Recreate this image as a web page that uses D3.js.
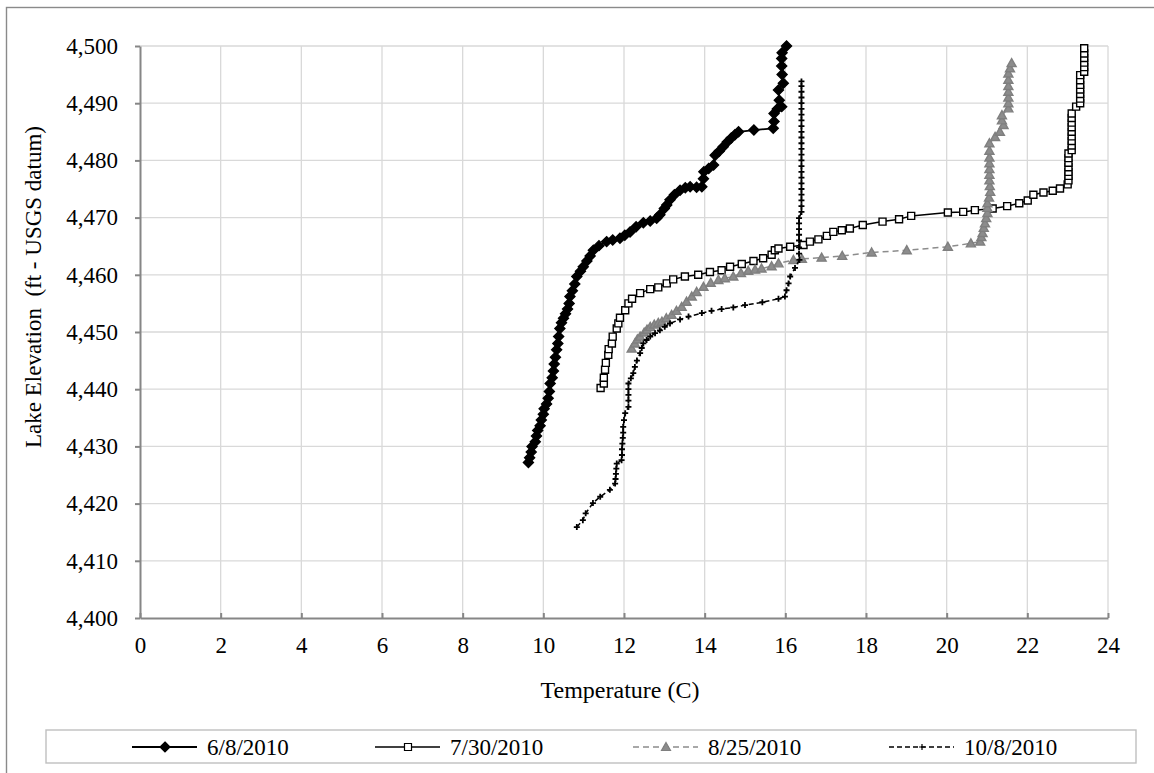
<!DOCTYPE html>
<html>
<head>
<meta charset="utf-8">
<script src="https://cdn.jsdelivr.net/npm/d3@7"></script>
<style>
  body { margin: 0; background: #fff; }
  text { font-family: "Liberation Serif", "Times New Roman", serif; fill: #000; }
</style>
</head>
<body>
<div id="chart"></div>
<script>
// temperature (C), lake elevation (ft) pairs
var june8 = [
  [9.63,4427.2],[9.66,4428.0],[9.70,4429.0],[9.72,4430.0],[9.80,4430.8],[9.83,4431.8],
  [9.86,4432.8],[9.92,4433.6],[9.95,4434.6],[10.00,4435.6],[10.02,4436.6],[10.08,4437.4],
  [10.12,4438.4],[10.15,4439.6],[10.17,4441.0],[10.22,4442.0],[10.25,4443.2],[10.27,4444.4],
  [10.30,4445.6],[10.33,4446.9],[10.36,4448.0],[10.38,4449.2],[10.41,4450.6],[10.45,4451.6],
  [10.50,4452.4],[10.55,4453.2],[10.60,4454.0],[10.64,4455.0],[10.66,4456.2],[10.72,4457.2],
  [10.78,4458.4],[10.83,4459.7],[10.92,4460.6],[10.99,4461.4],[11.08,4462.4],[11.16,4463.3],
  [11.24,4464.3],[11.38,4465.1],[11.57,4465.8],[11.72,4466.1],[11.90,4466.4],[12.02,4466.9],
  [12.15,4467.5],[12.30,4468.4],[12.48,4469.1],[12.65,4469.4],[12.81,4469.9],[12.89,4470.5],
  [13.00,4471.6],[13.06,4472.2],[13.14,4473.1],[13.25,4474.0],[13.39,4474.8],[13.52,4475.2],
  [13.64,4475.4],[13.80,4475.3],[13.93,4475.4],[13.97,4476.8],[13.98,4478.0],[14.10,4478.6],
  [14.22,4479.2],[14.26,4480.9],[14.36,4481.6],[14.46,4482.4],[14.56,4483.2],[14.66,4483.9],
  [14.75,4484.5],[14.84,4485.0],[15.22,4485.3],[15.70,4485.6],[15.72,4486.8],[15.72,4488.2],
  [15.80,4489.0],[15.91,4489.4],[15.85,4490.5],[15.83,4492.3],[15.95,4493.5],[15.92,4495.0],
  [15.91,4496.5],[15.91,4497.8],[15.92,4498.8],[16.03,4500.0]
];

var july30 = [
  [11.42,4440.2],[11.50,4441.0],[11.50,4442.0],[11.53,4443.4],[11.55,4444.6],[11.61,4446.0],
  [11.62,4447.0],[11.70,4448.0],[11.72,4449.2],[11.82,4450.6],[11.86,4451.5],[11.90,4452.5],
  [12.03,4453.8],[12.11,4455.0],[12.20,4455.8],[12.40,4456.8],[12.65,4457.5],[12.85,4457.8],
  [13.06,4458.5],[13.22,4459.2],[13.51,4459.7],[13.84,4460.0],[14.13,4460.5],[14.42,4460.8],
  [14.63,4461.4],[14.92,4461.9],[15.21,4462.4],[15.45,4462.9],[15.66,4463.5],[15.74,4464.3],
  [15.83,4464.6],[16.12,4464.9],[16.45,4465.2],[16.61,4465.8],[16.82,4466.2],[17.03,4466.8],
  [17.19,4467.5],[17.40,4467.8],[17.60,4468.1],[17.92,4468.7],[18.41,4469.3],[18.82,4469.7],
  [19.12,4470.3],[20.03,4470.9],[20.41,4471.0],[20.70,4471.3],[21.14,4471.6],[21.50,4472.0],
  [21.80,4472.5],[22.01,4473.0],[22.15,4474.0],[22.40,4474.4],[22.63,4474.7],[22.81,4475.1],
  [23.00,4475.8],[23.02,4476.5],[23.02,4477.3],[23.02,4478.0],[23.02,4478.8],[23.02,4479.6],
  [23.02,4480.4],[23.02,4481.2],[23.10,4481.8],[23.10,4482.6],[23.10,4483.4],[23.10,4484.2],
  [23.10,4485.0],[23.10,4485.8],[23.10,4486.6],[23.10,4487.4],[23.10,4488.2],[23.21,4489.4],
  [23.31,4490.0],[23.31,4490.8],[23.31,4491.6],[23.31,4492.4],[23.31,4493.2],[23.31,4494.0],
  [23.31,4494.9],[23.41,4495.5],[23.41,4496.3],[23.41,4497.1],[23.41,4497.9],[23.41,4498.7],
  [23.41,4499.6]
];

var aug25 = [
  [12.19,4447.1],[12.27,4448.0],[12.33,4448.7],[12.40,4449.2],[12.50,4449.9],[12.57,4450.4],
  [12.65,4450.9],[12.75,4451.3],[12.85,4451.6],[12.94,4451.8],[13.05,4452.4],[13.18,4453.0],
  [13.30,4453.7],[13.43,4454.4],[13.55,4455.3],[13.68,4456.2],[13.80,4457.0],[13.97,4457.9],
  [14.15,4458.6],[14.34,4459.1],[14.50,4459.4],[14.71,4459.7],[14.90,4460.3],[15.08,4460.7],
  [15.25,4460.9],[15.41,4461.1],[15.66,4461.5],[15.83,4462.0],[16.20,4462.6],[16.41,4462.8],
  [16.90,4463.0],[17.41,4463.3],[18.14,4463.9],[19.01,4464.3],[20.03,4464.9],[20.60,4465.5],
  [20.83,4465.8],[20.86,4466.6],[20.89,4467.3],[20.92,4468.2],[20.95,4469.0],[20.98,4469.9],
  [21.01,4470.8],[21.01,4471.7],[21.01,4472.5],[21.05,4473.5],[21.08,4474.5],[21.07,4475.5],
  [21.06,4476.5],[21.06,4477.5],[21.06,4478.5],[21.06,4479.5],[21.06,4480.5],[21.06,4481.7],
  [21.06,4483.0],[21.20,4484.1],[21.32,4485.0],[21.41,4486.2],[21.37,4487.0],[21.37,4487.9],
  [21.53,4489.1],[21.53,4490.0],[21.53,4491.0],[21.53,4492.0],[21.53,4493.0],[21.53,4494.1],
  [21.53,4495.2],[21.57,4496.1],[21.61,4497.0]
];

var oct8 = [
  [10.83,4415.9],[10.98,4417.1],[11.05,4418.3],[11.23,4420.1],[11.41,4421.2],[11.65,4422.4],
  [11.78,4423.5],[11.79,4424.3],[11.80,4425.2],[11.81,4426.1],[11.82,4427.0],[11.94,4427.6],
  [11.95,4428.5],[11.95,4429.5],[11.96,4430.5],[11.97,4431.5],[11.98,4432.4],[11.98,4433.4],
  [12.00,4434.6],[12.03,4435.8],[12.11,4436.9],[12.11,4438.0],[12.11,4439.0],[12.11,4440.0],
  [12.11,4441.0],[12.17,4441.9],[12.23,4442.8],[12.27,4443.9],[12.32,4445.0],[12.40,4446.3],
  [12.44,4447.2],[12.48,4448.0],[12.56,4448.6],[12.65,4449.2],[12.77,4449.8],[12.89,4450.3],
  [13.01,4450.9],[13.14,4451.5],[13.39,4452.2],[13.60,4452.7],[13.93,4453.3],[14.17,4453.7],
  [14.42,4454.0],[14.71,4454.3],[15.00,4454.7],[15.43,4455.2],[15.83,4455.8],[15.99,4456.2],
  [16.03,4457.3],[16.08,4458.5],[16.12,4459.7],[16.24,4461.2],[16.35,4462.6],[16.34,4463.7],
  [16.34,4464.8],[16.34,4466.0],[16.34,4467.0],[16.34,4468.0],[16.34,4469.0],[16.34,4469.9],
  [16.40,4471.0],[16.40,4472.0],[16.40,4473.0],[16.40,4474.0],[16.40,4475.0],[16.40,4476.0],
  [16.40,4477.0],[16.40,4478.0],[16.40,4479.0],[16.40,4480.0],[16.40,4481.0],[16.40,4482.0],
  [16.40,4483.0],[16.40,4484.0],[16.40,4485.0],[16.40,4486.0],[16.40,4487.0],[16.40,4488.0],
  [16.40,4489.0],[16.40,4490.0],[16.40,4491.0],[16.40,4492.0],[16.40,4493.0],[16.40,4493.8]
];

var seriesNames = ["6/8/2010", "7/30/2010", "8/25/2010", "10/8/2010"];
var xTicks = d3.range(0, 25, 2);
var yTicks = d3.range(4400, 4501, 10);

var width = 1154,
  height = 773,
  svg = d3.select("#chart").append("svg")
    .attr("width", width)
    .attr("height", height);

svg.append("rect").attr("width", width).attr("height", height).attr("fill", "#fff");

// outer chart border (runs off the right and bottom of the picture)
svg.append("rect")
  .attr("x", 6.5).attr("y", 7.5)
  .attr("width", 1200).attr("height", 820)
  .attr("fill", "none").attr("stroke", "#8a8a8a").attr("stroke-width", 1.4);

var plot = { left: 140, right: 1108, top: 46, bottom: 618 };

var x = d3.scaleLinear().domain([0, 24]).range([plot.left, plot.right]);
var y = d3.scaleLinear().domain([4400, 4500]).range([plot.bottom, plot.top]);

// gridlines
svg.append("g").selectAll("line").data(xTicks.slice(1)).join("line")
  .attr("x1", d => x(d)).attr("x2", d => x(d))
  .attr("y1", plot.top).attr("y2", plot.bottom)
  .attr("stroke", "#d9d9d9").attr("stroke-width", 1.3);
svg.append("g").selectAll("line").data(yTicks.slice(1)).join("line")
  .attr("x1", plot.left).attr("x2", plot.right)
  .attr("y1", d => y(d)).attr("y2", d => y(d))
  .attr("stroke", "#d9d9d9").attr("stroke-width", 1.3);

// axes
var xAxis = svg.append("g")
  .attr("transform", `translate(0,${plot.bottom})`)
  .call(d3.axisBottom(x).tickValues(xTicks).tickSize(-5).tickSizeOuter(0));
var yAxis = svg.append("g")
  .attr("transform", `translate(${plot.left},0)`)
  .call(d3.axisLeft(y).tickValues(yTicks).tickSize(5).tickPadding(17).tickFormat(d3.format(",")).tickSizeOuter(0));

[xAxis, yAxis].forEach(function(g){
  g.select(".domain").attr("stroke", "#868686").attr("stroke-width", 2);
  g.selectAll(".tick line").attr("stroke", "#868686").attr("stroke-width", 2);
  g.selectAll(".tick text")
    .attr("font-family", "Liberation Serif")
    .attr("font-size", 23)
    .attr("fill", "#000");
});
xAxis.selectAll(".tick text").attr("y", 19).attr("dy", "0.71em");

svg.append("text")
  .attr("x", 620).attr("y", 698)
  .attr("text-anchor", "middle")
  .attr("font-size", 24)
  .text("Temperature (C)");

svg.append("text")
  .attr("transform", "translate(41,287) rotate(-90)")
  .attr("text-anchor", "middle")
  .attr("font-size", 23)
  .style("white-space", "pre")
  .text("Lake Elevation  (ft - USGS datum)");

// series styles
var styles = [
  { data: june8, color: "#000", width: 1.8, dash: null, marker: "diamond", mfill: "#000", mstroke: "#000" },
  { data: july30, color: "#000", width: 1.5, dash: null, marker: "square", mfill: "#fff", mstroke: "#000" },
  { data: aug25, color: "#8c8c8c", width: 1.5, dash: "6,4", marker: "triangle", mfill: "#8c8c8c", mstroke: "#7f7f7f" },
  { data: oct8, color: "#000", width: 1.5, dash: "5,3", marker: "plus", mfill: "none", mstroke: "#000" }
];

var markerPath = {
  diamond: "M0,-5L5,0L0,5L-5,0Z",
  square: "M-3.5,-3.5H3.5V3.5H-3.5Z",
  triangle: "M0,-4.5L4.5,3.5H-4.5Z",
  plus: "M-3,0H3M0,-3V3"
};

var line = d3.line().x(d => x(d[0])).y(d => y(d[1]));

styles.forEach(function(s){
  var g = svg.append("g");
  g.append("path")
    .attr("d", line(s.data))
    .attr("fill", "none")
    .attr("stroke", s.color)
    .attr("stroke-width", s.width)
    .attr("stroke-dasharray", s.dash);
  g.selectAll("path.m").data(s.data).join("path")
    .attr("class", "m")
    .attr("transform", d => `translate(${x(d[0])},${y(d[1])})`)
    .attr("d", markerPath[s.marker])
    .attr("fill", s.mfill)
    .attr("stroke", s.mstroke)
    .attr("stroke-width", s.marker == "plus" ? 1.8 : 1.4);
});

// legend
svg.append("rect")
  .attr("x", 46).attr("y", 730)
  .attr("width", 1090).attr("height", 33)
  .attr("fill", "#fff").attr("stroke", "#bfbfbf").attr("stroke-width", 1.4);

var legendX = [132, 375, 633, 889];
var ly = 747;
styles.forEach(function(s, i){
  var g = svg.append("g").attr("transform", `translate(${legendX[i]},${ly})`);
  g.append("line")
    .attr("x1", 0).attr("x2", 65)
    .attr("stroke", s.color).attr("stroke-width", s.width)
    .attr("stroke-dasharray", s.dash);
  g.append("path")
    .attr("transform", "translate(33,0)")
    .attr("d", markerPath[s.marker])
    .attr("fill", s.mfill)
    .attr("stroke", s.mstroke)
    .attr("stroke-width", 1.2);
  g.append("text")
    .attr("x", 75).attr("dy", "0.35em")
    .attr("font-size", 23)
    .text(seriesNames[i]);
});
</script>
</body>
</html>
